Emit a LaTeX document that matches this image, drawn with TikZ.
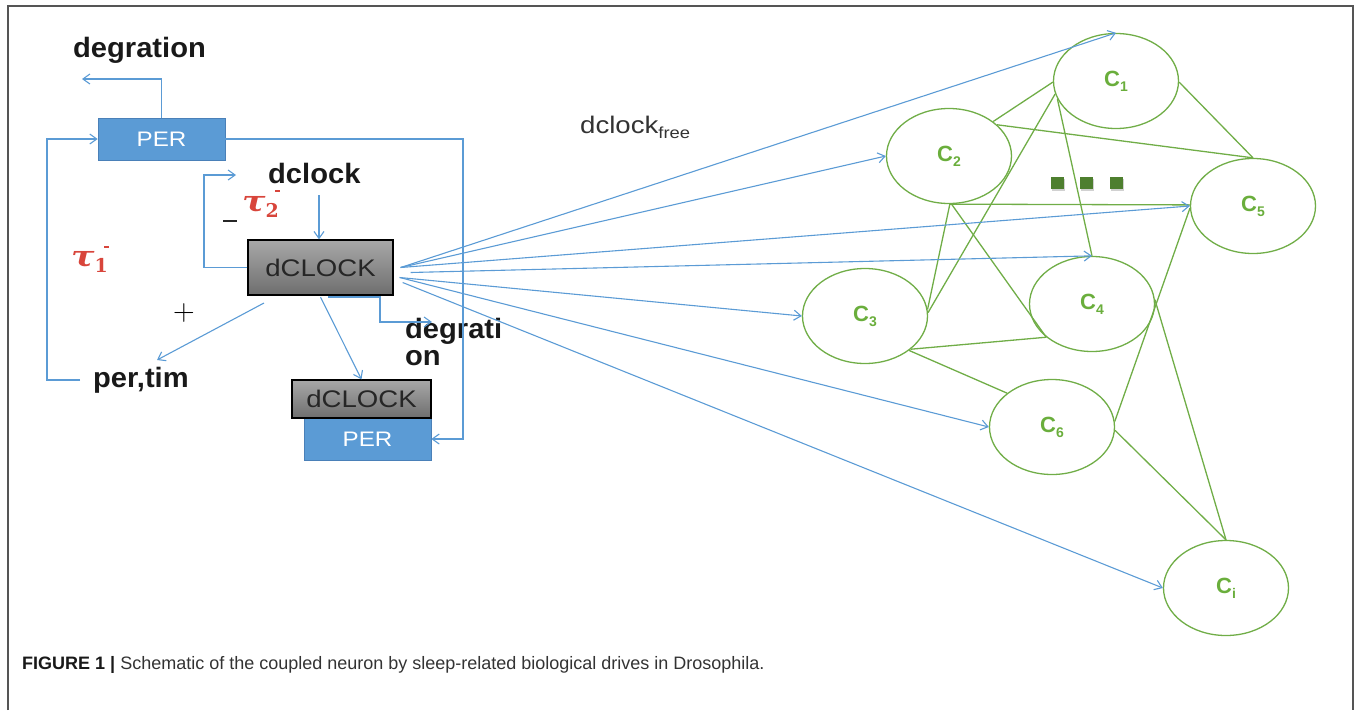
\documentclass[tikz,border=0pt]{standalone}
\usepackage{fontspec}
\setmainfont{Liberation Sans}
\newfontfamily\wideR[FakeStretch=1.15]{Liberation Sans}
\newfontfamily\wideB[FakeStretch=1.04]{Liberation Sans}
\newfontfamily\taufont{DejaVu Serif}
\newfontfamily\lmfont{Latin Modern Roman}
\usetikzlibrary{arrows.meta,shapes.geometric,calc,shadows}

\definecolor{lineblue}{HTML}{5B9BD5}
\definecolor{perblue}{HTML}{5B9BD5}
\definecolor{perborder}{HTML}{4A80B8}
\definecolor{cellgreen}{HTML}{70AD47}
\definecolor{labelgreen}{HTML}{6AAE3C}
\definecolor{dotgreen}{HTML}{4E7F2F}
\definecolor{taured}{HTML}{D8453B}
\definecolor{grayTop}{HTML}{A8A8A8}
\definecolor{grayBot}{HTML}{6E6E6E}
\definecolor{framegray}{HTML}{555555}
\definecolor{captext}{HTML}{333333}

\tikzset{
  arr/.style={draw=lineblue, line width=1.1pt,
    -{Straight Barb[length=7pt,width=10pt,line width=1.1pt]}},
  perbox/.style={rectangle, fill=perblue, draw=perborder, line width=0.6pt,
    text=white, inner sep=0pt, font=\wideR\fontsize{21}{21}\selectfont},
  clockbox/.style={rectangle, top color=grayTop, bottom color=grayBot,
    draw=black, line width=1.3pt, inner sep=0pt, text=black!85,
    font=\wideR\fontsize{24}{24}\selectfont},
  boldlbl/.style={inner sep=0pt, text=black!90,
    font=\wideB\bfseries\fontsize{28}{28}\selectfont},
  cell/.style={ellipse, draw=cellgreen, line width=1.3pt, inner sep=0pt,
    minimum width=125pt, minimum height=95pt, text=labelgreen,
    font=\bfseries\fontsize{22}{22}\selectfont},
  link/.style={draw=cellgreen, line width=1.3pt},
  taulbl/.style={inner sep=0pt, text=taured, font=\taufont\bfseries\itshape\fontsize{29}{29}\selectfont},
  dotsq/.style={rectangle, fill=dotgreen, minimum width=13pt, minimum height=12pt,
    inner sep=0pt, drop shadow},
  every shadow/.style={fill=black, opacity=0.18, shadow xshift=1.5pt, shadow yshift=-1.5pt},
}

\newcommand{\csub}[1]{C\raisebox{-5pt}{\fontsize{14}{14}\selectfont #1}}
\newcommand{\tausub}[1]{\scalebox{1.2}[1]{τ}\raisebox{-6pt}{\upshape\fontsize{19}{19}\selectfont #1}}

\begin{document}
\begin{tikzpicture}[x=1pt,y=-1pt]
\useasboundingbox (0,0) rectangle (1360,710);

% outer frame
\draw[framegray, line width=1.5pt] (8,710) -- (8,6) -- (1353,6) -- (1353,710);

% ---- left part: molecular loop ----
\node[perbox, minimum width=127pt, minimum height=42pt] (per) at (161.5,139) {PER};
\node[clockbox, minimum width=145pt, minimum height=55pt] (dc) at (320.5,267.5) {dCLOCK};
\node[perbox, minimum width=127pt, minimum height=42pt] (perb) at (367.5,439) {PER};
\node[clockbox, minimum width=139pt, minimum height=38pt] (dcb) at (361.5,399) {dCLOCK};

\node[boldlbl, anchor=base west] (degtop) at (73,57) {degration};
\node[boldlbl, anchor=base west] (dclk) at (268,183) {dclock};
\node[boldlbl, anchor=base west] (pertim) at (93,387) {per,tim};
\node[boldlbl, anchor=north west, align=left] (degbot) at (405,318) {degrati\\[-1pt]on};

\node[taulbl, anchor=base west] (tau1) at (71,266) {\tausub{1}};
\node[taulbl, anchor=base west] (tau2) at (242,211) {\tausub{2}};
\node[inner sep=0pt, fill=taured, minimum width=5pt, minimum height=1.6pt] (tau1m) at (106,247) {};
\node[inner sep=0pt, fill=taured, minimum width=5pt, minimum height=1.6pt] (tau2m) at (277,191) {};
\node[inner sep=0pt, fill=black!85, minimum width=14pt, minimum height=1.6pt] (minus) at (230,221) {};
\node[inner sep=0pt, font=\lmfont\fontsize{30}{30}\selectfont] (plus) at (184,313) {+};

% connector end points
\coordinate (degEnd) at (82,79);
\coordinate (ptStart) at (80,380);
\coordinate (dclkIn) at (319,195);
\coordinate (loopEnd) at (236,175);
\coordinate (ptA) at (264,303);
\coordinate (ptB) at (157,360);
\coordinate (dgA) at (328,297);
\coordinate (dgEnd) at (432,322);

\draw[arr] (per.north) |- (degEnd);
\draw[arr] (ptStart) -- (47,380) |- (per.west);
\draw[arr] (per.east) -- (463,139) |- (perb.east);
\draw[arr] (dclkIn) -- (dclkIn |- dc.north);
\draw[arr] (dc.west) -- (204,267.5) |- (loopEnd);
\draw[arr] (ptA) -- (ptB);
\draw[arr] ([yshift=-1.5pt]dc.south) -- (dcb.north);
\draw[arr] (dgA) -- (380,297) -- (380,322) -- (dgEnd);

% ---- free dCLOCK label ----
\node[inner sep=0pt, anchor=base west, text=black!80, font=\wideR\fontsize{24}{24}\selectfont]
  (free) at (580,133) {dclock\raisebox{-5pt}{\fontsize{16}{16}\selectfont free}};

% ---- coupled cells ----
\node[cell] (c1) at (1116,81) {\csub{1}};
\node[cell] (c2) at (949,156) {\csub{2}};
\node[cell] (c5) at (1253,206) {\csub{5}};
\node[cell] (c4) at (1092,304) {\csub{4}};
\node[cell] (c3) at (865,316) {\csub{3}};
\node[cell] (c6) at (1052,427) {\csub{6}};
\node[cell] (ci) at (1226,588) {\csub{i}};

\node[dotsq] (sq1) at (1057,183) {};
\node[dotsq] (sq2) at (1086,183) {};
\node[dotsq] (sq3) at (1116,183) {};

% coupling links
\draw[link] (c1.181) -- (c2.38);
\draw[link] (c1.192) -- (c3.3);
\draw[link] (c1.197) -- (c4.north);
\draw[link] (c2.33) -- (c5.north);
\draw[link] (c1.359) -- (c5.north);
\draw[link] (c2.270) -- (c5.179);
\draw[link] (c2.271) -- (c3.6);
\draw[link] (c2.273) -- (c4.216);
\draw[link] (c3.324) -- (c4.216);
\draw[link] (c3.322) -- (c6.143);
\draw[link] (c5.182) -- (c6.5);
\draw[link] (c4.4) -- (ci.north);
\draw[link] (c6.357) -- (ci.north);

% dCLOCK_free drive to every cell
\coordinate (fanA) at ([xshift=7pt]dc.east);
\coordinate (fanB) at ([xshift=17pt,yshift=-5pt]dc.east);
\coordinate (fanC) at ([xshift=6pt,yshift=-10pt]dc.east);
\coordinate (fanD) at ([xshift=9pt,yshift=-15pt]dc.east);
\draw[arr] (fanA) -- (c1.north);
\draw[arr] (fanA) -- (c2.west);
\draw[arr] (fanA) -- (c5.west);
\draw[arr] (fanB) -- (c4.north);
\draw[arr] (fanC) -- (c3.west);
\draw[arr] (fanC) -- (c6.west);
\draw[arr] (fanD) -- (ci.west);

% ---- caption ----
\node[inner sep=0pt, anchor=base west, text=captext, font=\fontsize{18}{20}\selectfont]
  (cap) at (22,669) {\textbf{\color{black!90}FIGURE 1 |} Schematic of the coupled neuron by sleep-related biological drives in Drosophila.};
\end{tikzpicture}
\end{document}
